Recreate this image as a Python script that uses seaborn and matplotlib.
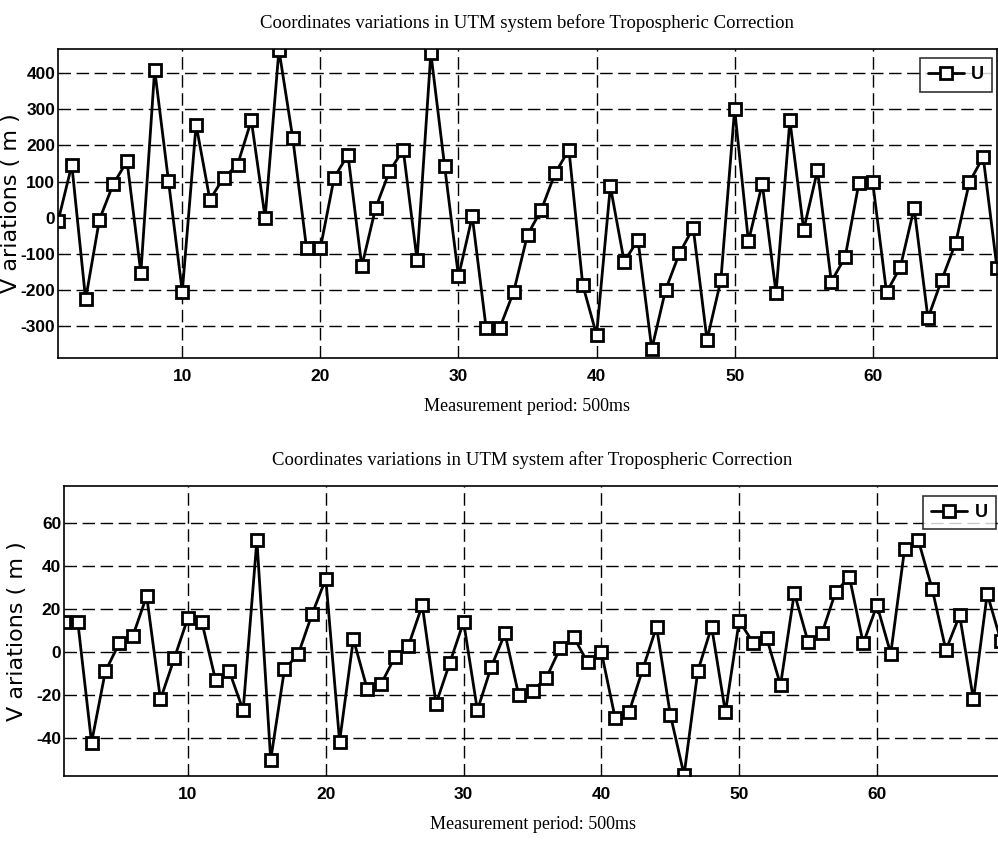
import matplotlib
matplotlib.use("Agg")
import matplotlib.pyplot as plt
import seaborn as sns
import numpy as np
import pandas as pd

samples = list(range(1, 70))

u_before = [-10, 146, -225, -5, 93, 156, -152, 409, 102, -204,
            257, 50, 111, 146, 269, 0, 464, 220, -84, -84,
            111, 174, -134, 27, 128, 188, -116, 455, 142, -162,
            4, -303, -303, -204, -47, 22, 123, 188, -185, -323,
            87, -121, -61, -362, -199, -98, -28, -337, -173, 300,
            -65, 94, -208, 269, -33, 131, -176, -109, 96, 98,
            -206, -136, 27, -277, -171, -70, 98, 168, -139]

u_after = [14, 14, -42, -9, 4, 7.5, 26, -22, -3, 16,
           14, -13, -9, -27, 52, -50, -8, -1, 17.5, 34,
           -41.5, 6, -17, -15, -2.5, 3, 21.7, -24, -5, 14,
           -27, -7, 8.6, -20, -18, -12, 1.7, 6.8, -4.8, 0,
           -30.7, -28, -8, 11.7, -29, -57, -8.7, 11.7, -28, 14.5,
           4.4, 6.3, -15.3, 27.4, 4.7, 8.6, 27.9, 34.8, 4, 21.7,
           -0.7, 47.6, 51.8, 29.4, 0.9, 17, -22, 27, 5]

titles = ["Coordinates variations in UTM system before Tropospheric Correction",
          "Coordinates variations in UTM system after Tropospheric Correction"]
xlabel = "Measurement period: 500ms"
ylabel = "V ariations ( m )"
series_name = "U"
xticks = [10, 20, 30, 40, 50, 60]
yticks_top = [-300, -200, -100, 0, 100, 200, 300, 400]
yticks_bot = [-40, -20, 0, 20, 40, 60]

sns.set_style("white")
tickfont = "Liberation Sans"
serif = "Liberation Serif"
plt.rcParams['font.family'] = [tickfont, 'DejaVu Sans']
plt.rcParams['axes.unicode_minus'] = False
plt.rcParams['text.color'] = 'black'
plt.rcParams['axes.labelcolor'] = 'black'

W, H = 998, 842
fig = plt.figure(figsize=(W / 100, H / 100), dpi=100)
fig.patch.set_facecolor("white")

def px_axes(l, t, r, b):
    return fig.add_axes([l / W, 1 - b / H, (r - l) / W, (b - t) / H])

ax1 = px_axes(58, 49, 997, 358)
ax2 = px_axes(64, 486, 1001, 776)

def draw(ax, vals, title, yticks, ylim, leg_anchor):
    df = pd.DataFrame({"x": samples, "y": vals, "s": series_name})
    sns.lineplot(data=df, x="x", y="y", hue="s", palette=["black"], ax=ax,
                 marker="s", markersize=8.5, markerfacecolor="white",
                 markeredgecolor="black", markeredgewidth=2.0,
                 linewidth=2.0, legend=True)
    ax.set_xlim(1, 69)
    ax.set_ylim(*ylim)
    ax.set_xticks(xticks)
    ax.set_yticks(yticks)
    ax.grid(True, color="black", linestyle=(0, (9, 4)), linewidth=1.0)
    ax.set_axisbelow(True)
    for s in ax.spines.values():
        s.set_color("black")
        s.set_linewidth(1.2)
    ax.tick_params(axis="both", direction="in", length=4, width=1,
                   colors="black", labelsize=12.5)
    ax.tick_params(axis="x", pad=8)
    ax.tick_params(axis="y", pad=2)
    for lab in ax.get_xticklabels() + ax.get_yticklabels():
        lab.set_fontweight("bold")
    ax.set_title(title, family=serif, fontsize=13.5, pad=15, color="black")
    ax.set_xlabel(xlabel, family=serif, fontsize=13, labelpad=10, color="black")
    ax.set_ylabel(ylabel, family="DejaVu Sans", fontsize=16, color="black")
    ax.yaxis.set_label_coords(-0.039, 0.5)
    leg = ax.legend(loc="upper right", frameon=True, fancybox=False,
                    handlelength=2.0, borderpad=0.45, handletextpad=0.4,
                    borderaxespad=0, markerscale=1.0,
                    prop={"family": tickfont, "weight": "bold", "size": 13},
                    bbox_to_anchor=leg_anchor)
    leg.get_frame().set_edgecolor("black")
    leg.get_frame().set_linewidth(1.2)
    for t in leg.get_texts():
        t.set_color("black")
    leg.set_title(None)

draw(ax1, u_before, titles[0], yticks_top,
     (min(u_before) - 25, max(u_before) + 2), (0.995, 0.97))
draw(ax2, u_after, titles[1], yticks_bot,
     (min(u_after) - 0.5, 77), (0.9945, 0.966))

fig.savefig("out.png", dpi=100, facecolor="white")
